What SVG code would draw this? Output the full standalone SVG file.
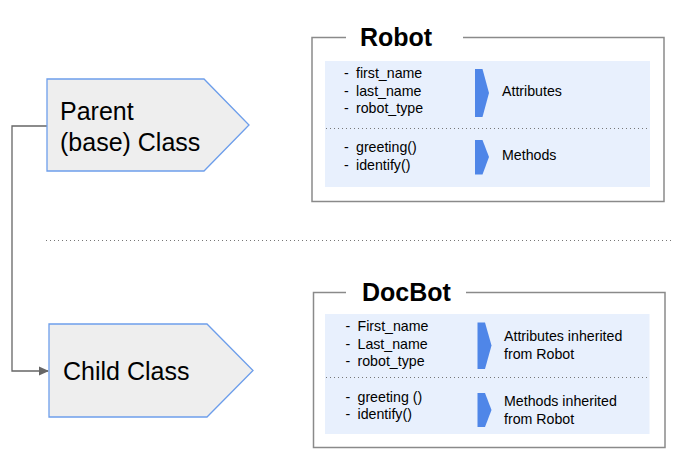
<svg xmlns="http://www.w3.org/2000/svg" width="684" height="468" viewBox="0 0 684 468">
<defs>
<style>
.cls{fill:#eeeeee;stroke:#6d9eeb;stroke-width:1.3}
.big{font-family:"Liberation Sans",Arial,sans-serif;font-size:25px;fill:#000}
.title{font-family:"Liberation Sans",Arial,sans-serif;font-size:25px;font-weight:bold;fill:#000}
.item{font-family:"Liberation Sans",Arial,sans-serif;font-size:14.2px;fill:#000}
.frame{fill:none;stroke:#8a8a8a;stroke-width:1.5}
.panel{fill:#e8f0fd;stroke:none}
.dot{stroke:#777;stroke-width:1;stroke-dasharray:1 3;fill:none}
.chev{fill:#4f86e8}
.conn{fill:none;stroke:#666;stroke-width:1.3}
</style>
<marker id="arr" markerWidth="10" markerHeight="10" refX="9" refY="5" orient="auto" markerUnits="userSpaceOnUse">
<path d="M0,0.5 L10,5 L0,9.5 Z" fill="#666"/>
</marker>
</defs>
<rect width="684" height="468" fill="#fff"/>

<g id="connectors">
<polyline class="conn" points="47,126 12,126 12,371 48,371" marker-end="url(#arr)"/>
<line class="dot" x1="46" y1="240.5" x2="674" y2="240.5" stroke="#666"/>
</g>

<g id="parent">
<polygon class="cls" points="47,79 204,79 249,125 204,171 47,171"/>
<text class="big" x="60" y="120">Parent</text>
<text class="big" x="60" y="151">(base) Class</text>
</g>

<g id="child">
<polygon class="cls" points="49,324 207,324 253,370.5 207,417 49,417"/>
<text class="big" x="63" y="380">Child Class</text>
</g>

<g id="robot">
<path class="frame" d="M346,37.5 L312,37.5 L312,201.5 L664,201.5 L664,37.5 L463,37.5"/>
<text class="title" x="360" y="46">Robot</text>
<rect class="panel" x="325" y="61" width="325" height="126"/>
<line class="dot" x1="326" y1="128.5" x2="650" y2="128.5"/>
<text class="item" x="344" y="78">- </text><text class="item" x="356" y="78">first_name</text>
<text class="item" x="344" y="96">- </text><text class="item" x="356" y="96">last_name</text>
<text class="item" x="344" y="113">- </text><text class="item" x="356" y="113">robot_type</text>
<text class="item" x="344" y="152">- </text><text class="item" x="356" y="152">greeting()</text>
<text class="item" x="344" y="170">- </text><text class="item" x="356" y="170">identify()</text>
<polygon class="chev" points="475,69 482.5,69 489,93 482.5,117 475,117"/>
<polygon class="chev" points="475,140 482.5,140 489,157 482.5,174.5 475,174.5"/>
<text class="item" x="502" y="96">Attributes</text>
<text class="item" x="502" y="160">Methods</text>
</g>

<g id="docbot">
<path class="frame" d="M346,292.5 L313.5,292.5 L313.5,447.5 L665,447.5 L665,292.5 L466,292.5"/>
<text class="title" x="362" y="301">DocBot</text>
<rect class="panel" x="325" y="314" width="324.5" height="120"/>
<line class="dot" x1="326" y1="377.5" x2="649" y2="377.5"/>
<text class="item" x="345.5" y="331">- </text><text class="item" x="357.5" y="331">First_name</text>
<text class="item" x="345.5" y="349">- </text><text class="item" x="357.5" y="349">Last_name</text>
<text class="item" x="345.5" y="366">- </text><text class="item" x="357.5" y="366">robot_type</text>
<text class="item" x="345.5" y="402">- </text><text class="item" x="357.5" y="402">greeting ()</text>
<text class="item" x="345.5" y="419">- </text><text class="item" x="357.5" y="419">identify()</text>
<polygon class="chev" points="477.5,322.5 485,322.5 491.5,345.5 485,369 477.5,369"/>
<polygon class="chev" points="477.5,393 485,393 491.5,410 485,427 477.5,427"/>
<text class="item" x="504" y="341">Attributes inherited</text>
<text class="item" x="504" y="359">from Robot</text>
<text class="item" x="504" y="406">Methods inherited</text>
<text class="item" x="504" y="424">from Robot</text>
</g>
</svg>
